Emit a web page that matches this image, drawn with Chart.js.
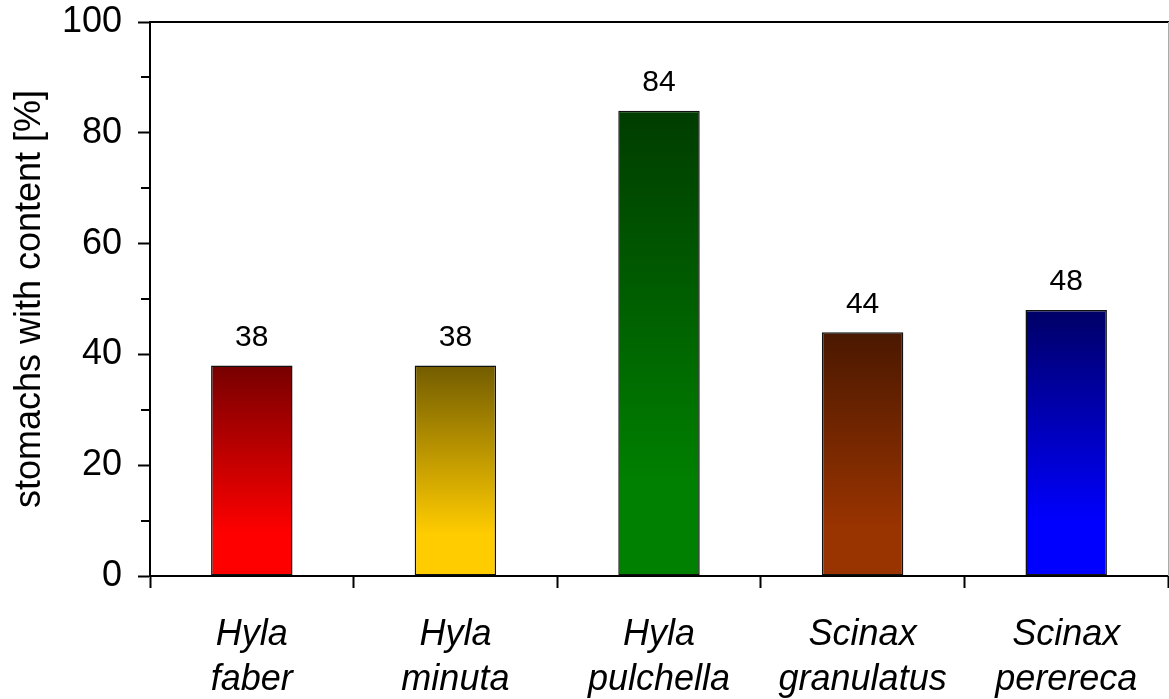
<!DOCTYPE html>
<html>
<head>
<meta charset="utf-8">
<script src="https://cdn.jsdelivr.net/npm/chart.js@4/dist/chart.umd.min.js"></script>
<style>
  html, body { margin: 0; padding: 0; background: #fff; }
  #wrap { width: 1169px; height: 699px; }
</style>
</head>
<body>
<div id="wrap"><canvas id="c" width="1169" height="699"></canvas></div>
<script>
// Species (two-line italic labels) and percentage of stomachs with content
const species = [
  ['Hyla', 'faber'],
  ['Hyla', 'minuta'],
  ['Hyla', 'pulchella'],
  ['Scinax', 'granulatus'],
  ['Scinax', 'perereca']
];
const percentWithContent = [38, 38, 84, 44, 48];

// Gradient stops per bar: dark at the top, bright at the base
const topColors = ['#770000', '#735c00', '#003c00', '#4a1800', '#000066'];
const baseColors = ['#ff0000', '#ffcc00', '#008000', '#993300', '#0000ff'];

const yMinorTicks = [10, 30, 50, 70, 90];

const FONT = "'Liberation Sans', Arial, Helvetica, sans-serif";

function barGradient(context) {
  const chart = context.chart;
  const i = context.dataIndex;
  if (!chart.chartArea || i === undefined) return baseColors[i || 0];
  const y = chart.scales.y;
  const top = y.getPixelForValue(percentWithContent[i]);
  const bottom = y.getPixelForValue(0);
  const g = chart.ctx.createLinearGradient(0, top, 0, bottom);
  g.addColorStop(0, topColors[i]);
  g.addColorStop(0.8, baseColors[i]);
  g.addColorStop(1, baseColors[i]);
  return g;
}

// Frame lines, minor y ticks and value labels
const decorations = {
  id: 'decorations',
  afterDraw(chart) {
    const { ctx, chartArea } = chart;
    const y = chart.scales.y;
    ctx.save();
    // top frame line
    ctx.strokeStyle = '#000';
    ctx.lineWidth = 2;
    ctx.beginPath();
    ctx.moveTo(chartArea.left, chartArea.top);
    ctx.lineTo(chart.width, chartArea.top);
    ctx.stroke();
    // right frame line (light)
    ctx.strokeStyle = '#aaa';
    ctx.lineWidth = 1;
    ctx.beginPath();
    ctx.moveTo(chartArea.right + 0.5, chartArea.top);
    ctx.lineTo(chartArea.right + 0.5, chartArea.bottom);
    ctx.stroke();
    // minor ticks on the value axis
    ctx.strokeStyle = '#000';
    ctx.lineWidth = 2;
    yMinorTicks.forEach(v => {
      const py = Math.round(y.getPixelForValue(v));
      ctx.beginPath();
      ctx.moveTo(chartArea.left - 9, py);
      ctx.lineTo(chartArea.left, py);
      ctx.stroke();
    });
    // value labels above the bars
    ctx.fillStyle = '#000';
    ctx.font = '30px ' + FONT;
    ctx.textAlign = 'center';
    ctx.textBaseline = 'middle';
    const meta = chart.getDatasetMeta(0);
    meta.data.forEach((bar, i) => {
      ctx.fillText(String(percentWithContent[i]), bar.x, bar.y - 28);
    });
    ctx.restore();
  }
};

new Chart(document.getElementById('c'), {
  type: 'bar',
  data: {
    labels: species,
    datasets: [{
      data: percentWithContent,
      backgroundColor: barGradient,
      borderColor: '#111',
      borderWidth: 1.5,
      borderSkipped: false,
      barPercentage: 0.4,
      categoryPercentage: 1.0
    }]
  },
  options: {
    responsive: false,
    animation: false,
    layout: { padding: { top: 22, right: 1, left: 0, bottom: 0 } },
    plugins: {
      legend: { display: false },
      tooltip: { enabled: false }
    },
    scales: {
      x: {
        grid: {
          offset: true,
          drawOnChartArea: false,
          drawTicks: true,
          tickLength: 12,
          tickWidth: 2,
          tickColor: '#000'
        },
        border: { display: true, color: '#000', width: 2 },
        ticks: {
          color: '#000',
          font: { family: FONT, size: 36, style: 'italic', lineHeight: 1.24 },
          padding: 25,
          maxRotation: 0,
          autoSkip: false
        },
        afterFit(scale) {
          scale.height = 123;
          scale.paddingLeft = 0;
          scale.paddingRight = 0;
        }
      },
      y: {
        min: 0,
        max: 100,
        ticks: {
          stepSize: 20,
          color: '#000',
          font: { family: FONT, size: 36 },
          padding: 16
        },
        grid: {
          drawOnChartArea: false,
          drawTicks: true,
          tickLength: 12,
          tickWidth: 2,
          tickColor: '#000'
        },
        border: { display: true, color: '#000', width: 2 },
        title: {
          display: true,
          text: 'stomachs with content [%]',
          color: '#000',
          font: { family: FONT, size: 36 },
          padding: { top: 8, bottom: 0 }
        },
        afterFit(scale) {
          scale.width = 150;
          scale.paddingTop = 0;
          scale.paddingBottom = 0;
        }
      }
    }
  },
  plugins: [decorations]
});
</script>
</body>
</html>
